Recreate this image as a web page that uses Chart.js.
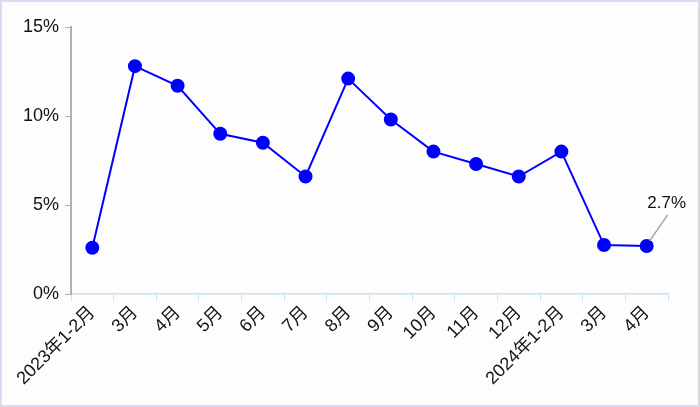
<!DOCTYPE html>
<html lang="zh">
<head>
    <meta charset="UTF-8">
    <title>增速</title>
    <script src="https://cdn.jsdelivr.net/npm/chart.js@4"></script>
    <style>
      html, body { margin: 0; padding: 0; background: #fff; }
      #wrap {
        width: 700px; height: 407px; box-sizing: border-box;
        border: 2px solid #d6ddf2; border-right-color: #d9d9d9;
        background: #fdfdfd;
      }
      #growthChart { display: block; }
    </style>
</head>
<body>
    <div id="wrap"><canvas id="growthChart" width="696" height="403"></canvas></div>

    <script>
        // 月份
        const months = ['2023年1-2月', '3月', '4月', '5月', '6月', '7月', '8月', '9月',
                        '10月', '11月', '12月', '2024年1-2月', '3月', '4月'];
        // 增速 (%)
        const growth = [2.6, 12.8, 11.7, 9.0, 8.5, 6.6, 12.1, 9.8, 8.0, 7.3, 6.6, 8.0, 2.75, 2.7];
        const yTicks = [0, 5, 10, 15];

        const fontFam = '"Liberation Sans", Arial, "Noto Sans CJK SC", sans-serif';

        // last point label with a leader line
        const lastLabel = {
            id: 'lastLabel',
            afterDatasetsDraw(chart) {
                const meta = chart.getDatasetMeta(0);
                const i = growth.length - 1;
                const pt = meta.data[i];
                const ctx = chart.ctx;
                ctx.save();
                ctx.strokeStyle = '#a6a6a6';
                ctx.lineWidth = 1.5;
                ctx.beginPath();
                ctx.moveTo(pt.x + 3, pt.y - 5);
                ctx.lineTo(pt.x + 21, pt.y - 31);
                ctx.stroke();
                ctx.fillStyle = '#111';
                ctx.font = '17px ' + fontFam;
                ctx.textAlign = 'center';
                ctx.textBaseline = 'middle';
                ctx.fillText(growth[i] + '%', pt.x + 20, pt.y - 43);
                ctx.restore();
            }
        };

        const ctx = document.getElementById('growthChart').getContext('2d');
        new Chart(ctx, {
            type: 'line',
            data: {
                labels: months,
                datasets: [{
                    data: growth,
                    borderColor: '#0000ff',
                    backgroundColor: '#0000ff',
                    borderWidth: 2,
                    pointRadius: 6,
                    pointHoverRadius: 6,
                    tension: 0
                }]
            },
            options: {
                responsive: false,
                animation: false,
                layout: { padding: { top: 25, right: 30, left: 0, bottom: 0 } },
                plugins: { legend: { display: false }, tooltip: { enabled: false } },
                scales: {
                    x: {
                        offset: true,
                        grid: {
                            offset: true,
                            drawOnChartArea: false,
                            drawTicks: true,
                            tickLength: 7,
                            color: '#bfe3f0'
                        },
                        border: { color: '#bfe3f0', width: 1.5, dash: [2, 1] },
                        ticks: {
                            color: '#111',
                            font: { family: fontFam, size: 18 },
                            maxRotation: 45,
                            minRotation: 45,
                            autoSkip: false,
                            padding: 1
                        },
                        afterFit(scale) { scale.height = 111; }
                    },
                    y: {
                        min: 0,
                        max: 15,
                        afterBuildTicks(scale) { scale.ticks = yTicks.map(v => ({ value: v })); },
                        grid: { drawOnChartArea: false, tickLength: 6, color: '#b0b0b0' },
                        border: { color: '#b0b0b0', width: 2 },
                        ticks: {
                            color: '#111',
                            font: { family: fontFam, size: 18 },
                            padding: 6,
                            callback: v => v + '%'
                        },
                        afterFit(scale) { scale.width = 69; }
                    }
                }
            },
            plugins: [lastLabel]
        });
    </script>
</body>
</html>
